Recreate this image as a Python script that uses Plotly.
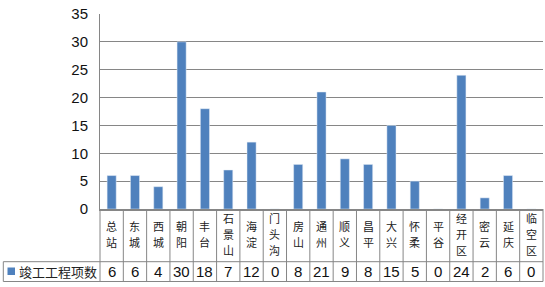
import plotly.graph_objects as go

categories = ["总站", "东城", "西城", "朝阳", "丰台", "石景山", "海淀", "门头沟", "房山", "通州",
              "顺义", "昌平", "大兴", "怀柔", "平谷", "经开区", "密云", "延庆", "临空区"]
values = [6, 6, 4, 30, 18, 7, 12, 0, 8, 21, 9, 8, 15, 5, 0, 24, 2, 6, 0]
series_name = "竣工工程项数"
y_ticks = [0, 5, 10, 15, 20, 25, 30, 35]

W, H = 545, 287
ML, MR, MT, MB = 100, 2, 14, 78
PW = W - ML - MR
PH = H - MT - MB

def yp(py):
    return (H - MB - py) / PH

def xp(px):
    return (px - ML) / PW

BAR = "#4F81BD"
GRID = "#868686"
CJK = "Noto Sans CJK SC"
NUM = "Liberation Sans"

fig = go.Figure(go.Bar(x=categories, y=values, marker_color=BAR, name=series_name))

n = len(categories)
shapes = []
annotations = []
row1_bot = yp(261.7)
row2_bot = yp(281.5)
legend_left = xp(3.3)

# vertical table lines
for k in range(n + 1):
    shapes.append(dict(type="line", xref="paper", yref="paper", x0=k / n, x1=k / n,
                       y0=0, y1=row2_bot, line=dict(color=GRID, width=1)))
# left border of legend cell
shapes.append(dict(type="line", xref="paper", yref="paper", x0=legend_left, x1=legend_left,
                   y0=row1_bot, y1=row2_bot, line=dict(color=GRID, width=1)))
# horizontal table lines
for yy in (row1_bot, row2_bot):
    shapes.append(dict(type="line", xref="paper", yref="paper", x0=legend_left, x1=1,
                       y0=yy, y1=yy, line=dict(color=GRID, width=1)))
# legend marker
shapes.append(dict(type="rect", xref="paper", yref="paper", x0=xp(7.5), x1=xp(15),
                   y0=yp(275), y1=yp(267.5), fillcolor=BAR, line=dict(width=0)))

# category labels (stacked vertical characters)
for cat in categories:
    m = len(cat)
    s = 16
    for j, ch in enumerate(cat):
        py = 234 + (j - (m - 1) / 2) * s
        annotations.append(dict(x=cat, xref="x", y=yp(py), yref="paper", text=ch,
                                showarrow=False, xanchor="center", yanchor="middle",
                                font=dict(family=CJK, size=11, color="#222222")))
# values row
for cat, v in zip(categories, values):
    annotations.append(dict(x=cat, xref="x", y=yp(271.8), yref="paper", text=str(v),
                            showarrow=False, xanchor="center", yanchor="middle",
                            font=dict(family=NUM, size=15, color="#111111")))
# legend text
annotations.append(dict(x=xp(16.5), xref="paper", y=yp(271.5), yref="paper", text=series_name,
                        showarrow=False, xanchor="left", yanchor="middle",
                        font=dict(family=CJK, size=13, color="#222222")))

fig.update_layout(
    width=W, height=H,
    margin=dict(l=ML, r=MR, t=MT, b=MB),
    paper_bgcolor="white", plot_bgcolor="white",
    bargap=0.61, showlegend=False,
    shapes=shapes, annotations=annotations,
    xaxis=dict(type="category", range=[-0.5, n - 0.5], showticklabels=False,
               showline=True, linecolor=GRID, linewidth=2, ticks="", showgrid=False,
               zeroline=False, fixedrange=True),
    yaxis=dict(range=[0, 35], tickvals=y_ticks, showgrid=True, gridcolor=GRID, gridwidth=1,
               showline=True, linecolor=GRID, linewidth=1, ticks="", zeroline=False,
               ticklabelstandoff=8,
               tickfont=dict(family=NUM, size=15, color="#111111"), fixedrange=True),
)

fig.write_html("out.html")
